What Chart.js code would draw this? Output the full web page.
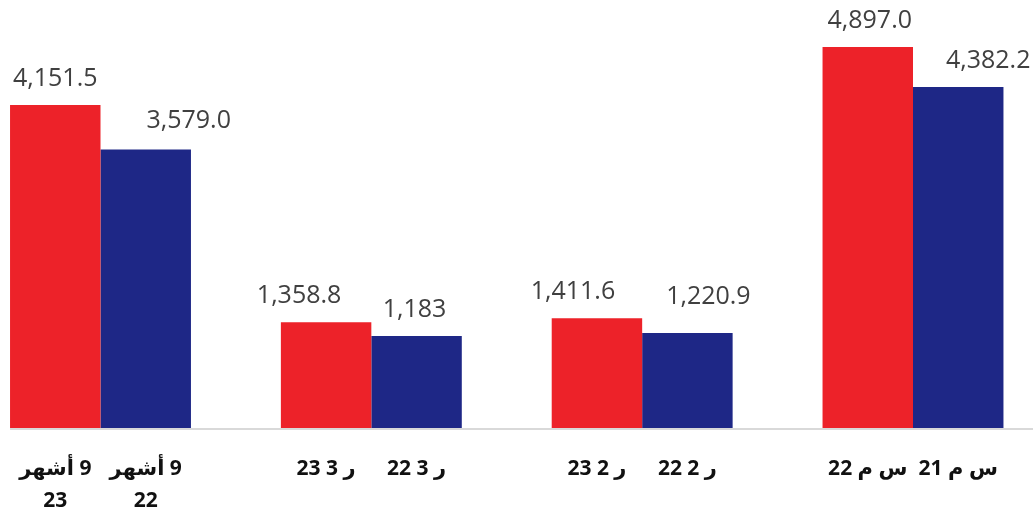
<!DOCTYPE html>
<html>
<head>
<meta charset="utf-8">
<script src="https://cdn.jsdelivr.net/npm/chart.js@4/dist/chart.umd.min.js"></script>
<style>
  html, body { margin: 0; padding: 0; background: #fff; }
  #wrap { width: 1033px; height: 517px; }
</style>
</head>
<body>
<div id="wrap"><canvas id="js-barChart" width="1033" height="517"></canvas></div>
<script>
// periods (x categories)
const categories = ['9 أشهر', 'ر3', 'ر2', 'س م'];

// red = newer period, blue = older period
const values2023 = [4151.5, 1358.8, 1411.6, 4897.0];
const values2022 = [3579.0, 1183, 1220.9, 4382.2];
const decimals2023 = [1, 1, 1, 1];
const decimals2022 = [1, 0, 1, 1];

// label under each bar (lines)
const barLabels2023 = [['9 أشهر', '23'], ['ر 3 23'], ['ر 2 23'], ['س م 22']];
const barLabels2022 = [['9 أشهر', '22'], ['ر 3 22'], ['ر 2 22'], ['س م 21']];

// small hand nudges of the value labels, like in the source file
const nudgeX2023 = [0, -27, -24, 2];
const nudgeX2022 = [43, -2, 21, 30];
const nudgeY2022 = [-2, 0, -10, 0];

const RED = '#ED2229';
const BLUE = '#1E2786';

const formatValue = (v, d) => v.toLocaleString('en-US', { minimumFractionDigits: d, maximumFractionDigits: d });

const baselinePlugin = {
    id: 'baseline',
    afterDatasetsDraw(chart) {
        const ctx = chart.ctx;
        const y0 = chart.scales.y.getPixelForValue(0);
        const first = chart.getDatasetMeta(0).data[0];
        const left = first.x - first.width / 2;
        ctx.save();
        ctx.fillStyle = '#D9D9D9';
        ctx.fillRect(left, y0, chart.width - left, 2);
        ctx.restore();
    }
};

const labelsPlugin = {
    id: 'barTexts',
    afterDatasetsDraw(chart) {
        const ctx = chart.ctx;
        const sets = [
            { values: values2023, dec: decimals2023, names: barLabels2023, nx: nudgeX2023, ny: [0, 0, 0, 0] },
            { values: values2022, dec: decimals2022, names: barLabels2022, nx: nudgeX2022, ny: nudgeY2022 }
        ];
        ctx.save();
        sets.forEach((s, i) => {
            chart.getDatasetMeta(i).data.forEach((bar, j) => {
                // value above the bar
                ctx.direction = 'ltr';
                ctx.textAlign = 'center';
                ctx.textBaseline = 'alphabetic';
                ctx.font = '25px "Open Sans", "DejaVu Sans", sans-serif';
                ctx.fillStyle = '#404040';
                ctx.fillText(formatValue(s.values[j], s.dec[j]), bar.x + s.nx[j], bar.y - 19 + s.ny[j]);

                // period name under the bar
                ctx.direction = 'rtl';
                ctx.font = 'bold 21px "Open Sans", "DejaVu Sans", sans-serif';
                ctx.fillStyle = '#111111';
                s.names[j].forEach((line, k) => {
                    ctx.fillText(line, bar.x, 475 + k * 32);
                });
            });
        });
        ctx.restore();
    }
};

new Chart(document.getElementById('js-barChart'), {
    type: 'bar',
    data: {
        labels: categories,
        datasets: [{
            data: values2023,
            backgroundColor: RED,
            borderWidth: 0
        }, {
            data: values2022,
            backgroundColor: BLUE,
            borderWidth: 0
        }]
    },
    options: {
        responsive: false,
        animation: false,
        layout: { padding: { left: 100.5, right: 120, top: 0, bottom: 89 } },
        datasets: {
            bar: { barPercentage: 1, categoryPercentage: 0.668, clip: false }
        },
        scales: {
            x: { display: false, offset: false },
            y: { display: false, min: 0, max: 5500 }
        },
        plugins: {
            legend: { display: false },
            tooltip: { enabled: false }
        }
    },
    plugins: [baselinePlugin, labelsPlugin]
});
</script>
</body>
</html>
